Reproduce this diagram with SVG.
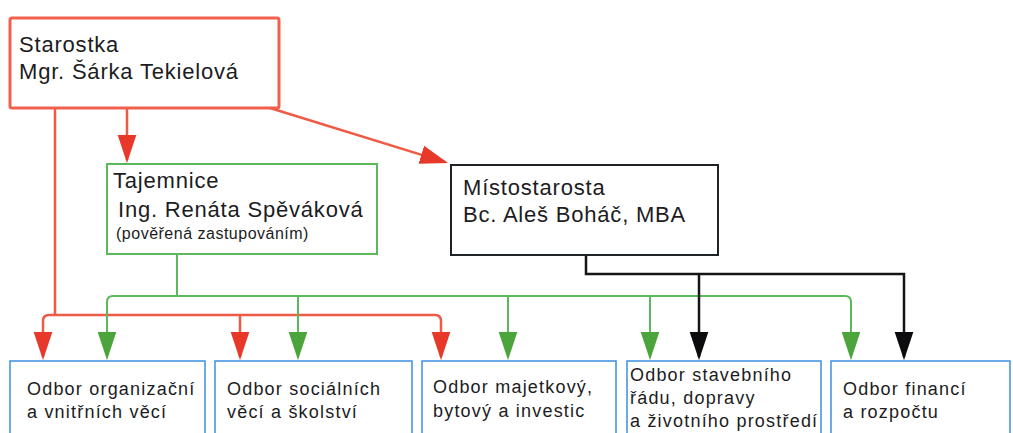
<svg xmlns="http://www.w3.org/2000/svg" width="1013" height="433" viewBox="0 0 1013 433">
<defs>
<style>
.t{font-family:"Liberation Sans",Arial,sans-serif;fill:#1c1c22}
.big{font-size:22px;letter-spacing:0.8px}
.small{font-size:16px;letter-spacing:0.5px}
.dept{font-size:18px;letter-spacing:1.2px}
.dbox{fill:#fff;stroke:#3d8fe0;stroke-width:1.5}
.red{fill:none;stroke:#ef5a44;stroke-width:2.5}
.grn{fill:none;stroke:#5cb85a;stroke-width:2}
.blk{fill:none;stroke:#151518;stroke-width:2.5}
</style>
<marker id="ar" markerUnits="userSpaceOnUse" markerWidth="28" markerHeight="20" viewBox="0 0 27 18" refX="24" refY="9" orient="auto"><path d="M0,0 L27,9 L0,18 z" fill="#e8382a"/></marker>
<marker id="ag" markerUnits="userSpaceOnUse" markerWidth="28" markerHeight="20" viewBox="0 0 27 18" refX="24" refY="9" orient="auto"><path d="M0,0 L27,9 L0,18 z" fill="#4ca43c"/></marker>
<marker id="ak" markerUnits="userSpaceOnUse" markerWidth="28" markerHeight="20" viewBox="0 0 27 18" refX="24" refY="9" orient="auto"><path d="M0,0 L27,9 L0,18 z" fill="#0c0c0e"/></marker>
</defs>
<rect width="1013" height="433" fill="#fff"/>
<g id="connectors">
<path class="red" d="M55,108 V315"/>
<path class="red" d="M49,315 H435 Q441,315 441,321 V357" marker-end="url(#ar)"/>
<path class="red" d="M49,315 Q43,315 43,321 V357" marker-end="url(#ar)"/>
<path class="red" d="M240,315 V357" marker-end="url(#ar)"/>
<path class="red" d="M127,108 V160" marker-end="url(#ar)"/>
<path class="red" d="M270,108 L445.1,162.1" marker-end="url(#ar)"/>
<path class="grn" d="M177,254 V296"/>
<path class="grn" d="M113,296 H845 Q851,296 851,302 V357" marker-end="url(#ag)"/>
<path class="grn" d="M113,296 Q107,296 107,302 V357" marker-end="url(#ag)"/>
<path class="grn" d="M298,296 V357" marker-end="url(#ag)"/>
<path class="grn" d="M508,296 V357" marker-end="url(#ag)"/>
<path class="grn" d="M650,296 V357" marker-end="url(#ag)"/>
<path class="blk" d="M586,255 V274 H904 V357" marker-end="url(#ak)"/>
<path class="blk" d="M699,274 V357" marker-end="url(#ak)"/>
</g>
<g id="starostka">
<rect x="10" y="18" width="269" height="90" rx="2" fill="#fff" stroke="#f0604c" stroke-width="3"/>
<text class="t big" x="19" y="52">Starostka</text>
<text class="t big" x="19" y="79">Mgr. Šárka Tekielová</text>
</g>
<g id="tajemnice">
<rect x="107" y="164" width="270" height="90" fill="#fff" stroke="#5cb85a" stroke-width="2"/>
<text class="t big" x="113" y="188">Tajemnice</text>
<text class="t big" x="118" y="217">Ing. Renáta Spěváková</text>
<text class="t small" x="116" y="239">(pověřená zastupováním)</text>
</g>
<g id="mistostarosta">
<rect x="451" y="165" width="267" height="90" fill="#fff" stroke="#1e2328" stroke-width="2"/>
<text class="t big" x="463" y="195">Místostarosta</text>
<text class="t big" x="463" y="222">Bc. Aleš Boháč, MBA</text>
</g>
<g id="odbor-organizacni">
<rect class="dbox" x="10" y="361" width="195" height="80"/>
<text class="t dept" x="27" y="395">Odbor organizační</text>
<text class="t dept" x="27" y="418">a vnitřních věcí</text>
</g>
<g id="odbor-socialni">
<rect class="dbox" x="215" y="361" width="197" height="80"/>
<text class="t dept" x="227" y="395">Odbor sociálních</text>
<text class="t dept" x="227" y="418">věcí a školství</text>
</g>
<g id="odbor-majetkovy">
<rect class="dbox" x="422" y="361" width="194" height="80"/>
<text class="t dept" x="433" y="393">Odbor majetkový,</text>
<text class="t dept" x="433" y="417">bytový a investic</text>
</g>
<g id="odbor-stavebni">
<rect class="dbox" x="627" y="361" width="194" height="80"/>
<text class="t dept" x="630" y="381">Odbor stavebního</text>
<text class="t dept" x="630" y="404">řádu, dopravy</text>
<text class="t dept" x="630" y="427">a životního prostředí</text>
</g>
<g id="odbor-financi">
<rect class="dbox" x="831" y="361" width="179" height="80"/>
<text class="t dept" x="843" y="395">Odbor financí</text>
<text class="t dept" x="843" y="418">a rozpočtu</text>
</g>
</svg>
